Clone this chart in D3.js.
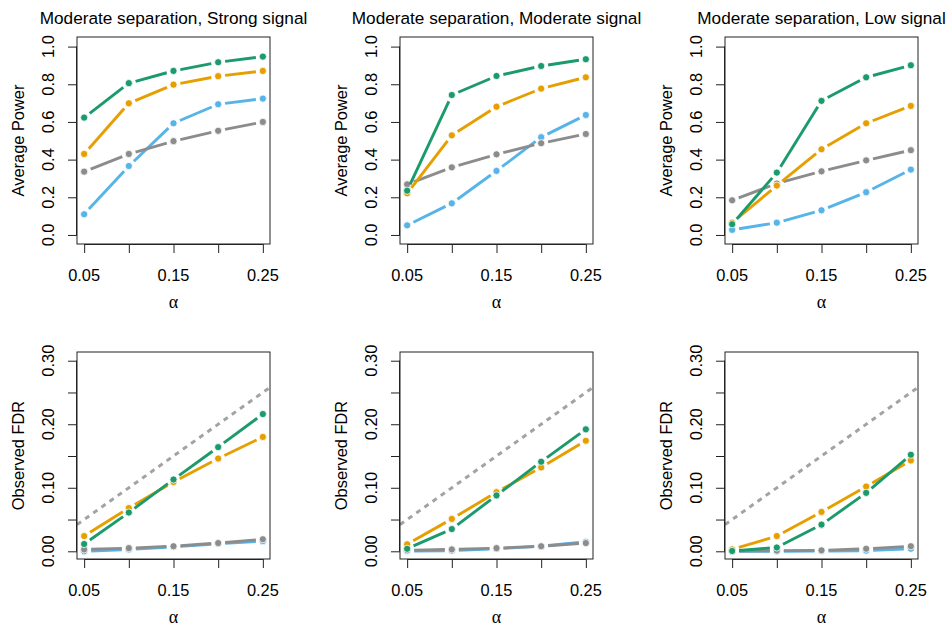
<!DOCTYPE html>
<html><head><meta charset="utf-8">
<script src="https://cdn.jsdelivr.net/npm/d3@7"></script>
<style>body{margin:0;background:#fff}svg text{font-family:"Liberation Sans",Arial,sans-serif;fill:#000}</style>
</head><body><svg id="c" width="949" height="628"></svg>
<script>
const alphas = [0.05, 0.10, 0.15, 0.20, 0.25];
const titles = ["Moderate separation, Strong signal", "Moderate separation, Moderate signal", "Moderate separation, Low signal"];
const seriesNames = ["blue", "grey", "orange", "green"];
const seriesColors = ["#56B4E9", "#8C8C8C", "#E69F00", "#1B9A6C"];
const powerTicks = [0, 0.2, 0.4, 0.6, 0.8, 1.0];
const fdrTicks = [0, 0.05, 0.10, 0.15, 0.20, 0.25, 0.30];
const xTicks = [0.05, 0.10, 0.15, 0.20, 0.25];

// Power, panels: strong, moderate, low
const powerBlue   = [[0.110,0.366,0.593,0.694,0.724],[0.051,0.168,0.340,0.519,0.637],[0.027,0.065,0.131,0.227,0.347]];
const powerGrey   = [[0.336,0.430,0.498,0.553,0.600],[0.269,0.359,0.428,0.487,0.536],[0.184,0.273,0.338,0.396,0.450]];
const powerOrange = [[0.430,0.699,0.798,0.843,0.871],[0.221,0.529,0.681,0.777,0.837],[0.065,0.262,0.455,0.593,0.685]];
const powerGreen  = [[0.623,0.806,0.871,0.917,0.947],[0.235,0.743,0.844,0.897,0.933],[0.057,0.331,0.712,0.837,0.901]];
// Observed FDR
const fdrBlue   = [[0.000,0.003,0.007,0.012,0.016],[0.0005,0.001,0.004,0.008,0.015],[0.000,0.000,0.0005,0.001,0.004]];
const fdrGrey   = [[0.003,0.005,0.008,0.013,0.019],[0.0015,0.003,0.005,0.008,0.013],[0.0005,0.001,0.0015,0.004,0.008]];
const fdrOrange = [[0.024,0.068,0.109,0.146,0.180],[0.011,0.051,0.093,0.132,0.174],[0.003,0.024,0.062,0.102,0.143]];
const fdrGreen  = [[0.0115,0.061,0.113,0.164,0.216],[0.004,0.035,0.088,0.141,0.192],[0.0005,0.006,0.042,0.092,0.152]];

const svg = d3.select("#c");
const lefts = [77, 400, 725];
const W = 193;
const rows = [
  {top:37, bottom:244, ydom:[-0.048,1.051], ticks:powerTicks, labelTicks:[0,0.2,0.4,0.6,0.8,1.0], fmt:d3.format(".1f"), ylab:"Average Power",
   data:[powerBlue,powerGrey,powerOrange,powerGreen], ref:false},
  {top:352, bottom:559, ydom:[-0.0121,0.3137], ticks:fdrTicks, labelTicks:[0,0.10,0.20,0.30], fmt:d3.format(".2f"), ylab:"Observed FDR",
   data:[fdrBlue,fdrGrey,fdrOrange,fdrGreen], ref:true}
];

rows.forEach((row, ri) => {
  lefts.forEach((L, pi) => {
    const x = d3.scaleLinear().domain([0.042,0.258]).range([L, L+W]);
    const y = d3.scaleLinear().domain(row.ydom).range([row.bottom, row.top]);
    const g = svg.append("g");
    const clipId = "clip"+ri+"_"+pi;
    g.append("clipPath").attr("id", clipId).append("rect")
      .attr("x", L).attr("y", row.top).attr("width", W).attr("height", row.bottom-row.top);
    if (row.ref) {
      g.append("line").attr("clip-path", `url(#${clipId})`)
        .attr("x1", x(0.042)).attr("y1", y(0.042)).attr("x2", x(0.258)).attr("y2", y(0.258))
        .attr("stroke", "#A3A3A3").attr("stroke-width", 3).attr("stroke-dasharray", "5,5");
    }
    row.data.forEach((ser, si) => {
      const vals = ser[pi];
      const pts = alphas.map((a,i) => [x(a), y(vals[i])]);
      const gap = 7;
      for (let i=0;i<pts.length-1;i++) {
        const [x0,y0]=pts[i],[x1,y1]=pts[i+1];
        const len = Math.hypot(x1-x0,y1-y0);
        if (len <= 2*gap) continue;
        const ux=(x1-x0)/len, uy=(y1-y0)/len;
        g.append("line").attr("x1",x0+ux*gap).attr("y1",y0+uy*gap).attr("x2",x1-ux*gap).attr("y2",y1-uy*gap)
          .attr("stroke",seriesColors[si]).attr("stroke-width",2.9).attr("stroke-linecap","butt");
      }
      g.selectAll(null).data(pts).enter().append("circle")
        .attr("cx",d=>d[0]).attr("cy",d=>d[1]).attr("r",3.6)
        .attr("fill",seriesColors[si]).attr("stroke","#fff").attr("stroke-width",0.8);
    });
    g.append("rect").attr("x",L).attr("y",row.top).attr("width",W).attr("height",row.bottom-row.top)
      .attr("fill","none").attr("stroke","#222").attr("stroke-width",1);
    const ya = g.append("g").attr("transform",`translate(${L},0)`)
      .call(d3.axisLeft(y).tickValues(row.ticks).tickSize(9).tickFormat(""));
    ya.select(".domain").attr("d", `M-0.5,${y(row.ticks[0])}V${y(row.ticks[row.ticks.length-1])}`).attr("stroke","#222");
    ya.selectAll(".tick line").attr("stroke","#222");
    row.labelTicks.forEach(t => {
      g.append("text").attr("transform",`translate(${L-29},${y(t)}) rotate(-90)`)
        .attr("text-anchor","middle").attr("dy","0.35em").attr("font-size",16.4).text(row.fmt(t));
    });
    const xa = g.append("g").attr("transform",`translate(0,${row.bottom})`)
      .call(d3.axisBottom(x).tickValues(xTicks).tickSize(9).tickFormat(""));
    xa.select(".domain").attr("d", `M${x(0.05)},0.5H${x(0.25)}`).attr("stroke","#222");
    xa.selectAll(".tick line").attr("stroke","#222");
    [0.05,0.15,0.25].forEach(t => {
      g.append("text").attr("x",x(t)).attr("y",row.bottom+31).attr("dy","0.35em")
        .attr("text-anchor","middle").attr("font-size",16.4).text(d3.format(".2f")(t));
    });
    g.append("text").attr("x",L+W/2).attr("y",row.bottom+59).attr("dy","0.3em")
      .attr("text-anchor","middle").attr("font-size",18).style("font-family","'Liberation Serif',serif").text("α");
    g.append("text").attr("transform",`translate(${L-59},${(row.top+row.bottom)/2}) rotate(-90)`)
      .attr("text-anchor","middle").attr("dy","0.35em").attr("font-size",16.4).text(row.ylab);
    if (ri===0) {
      g.append("text").attr("x",L+W/2).attr("y",18).attr("dy","0.35em")
        .attr("text-anchor","middle").attr("font-size",17.2).text(titles[pi]);
    }
  });
});
</script></body></html>
